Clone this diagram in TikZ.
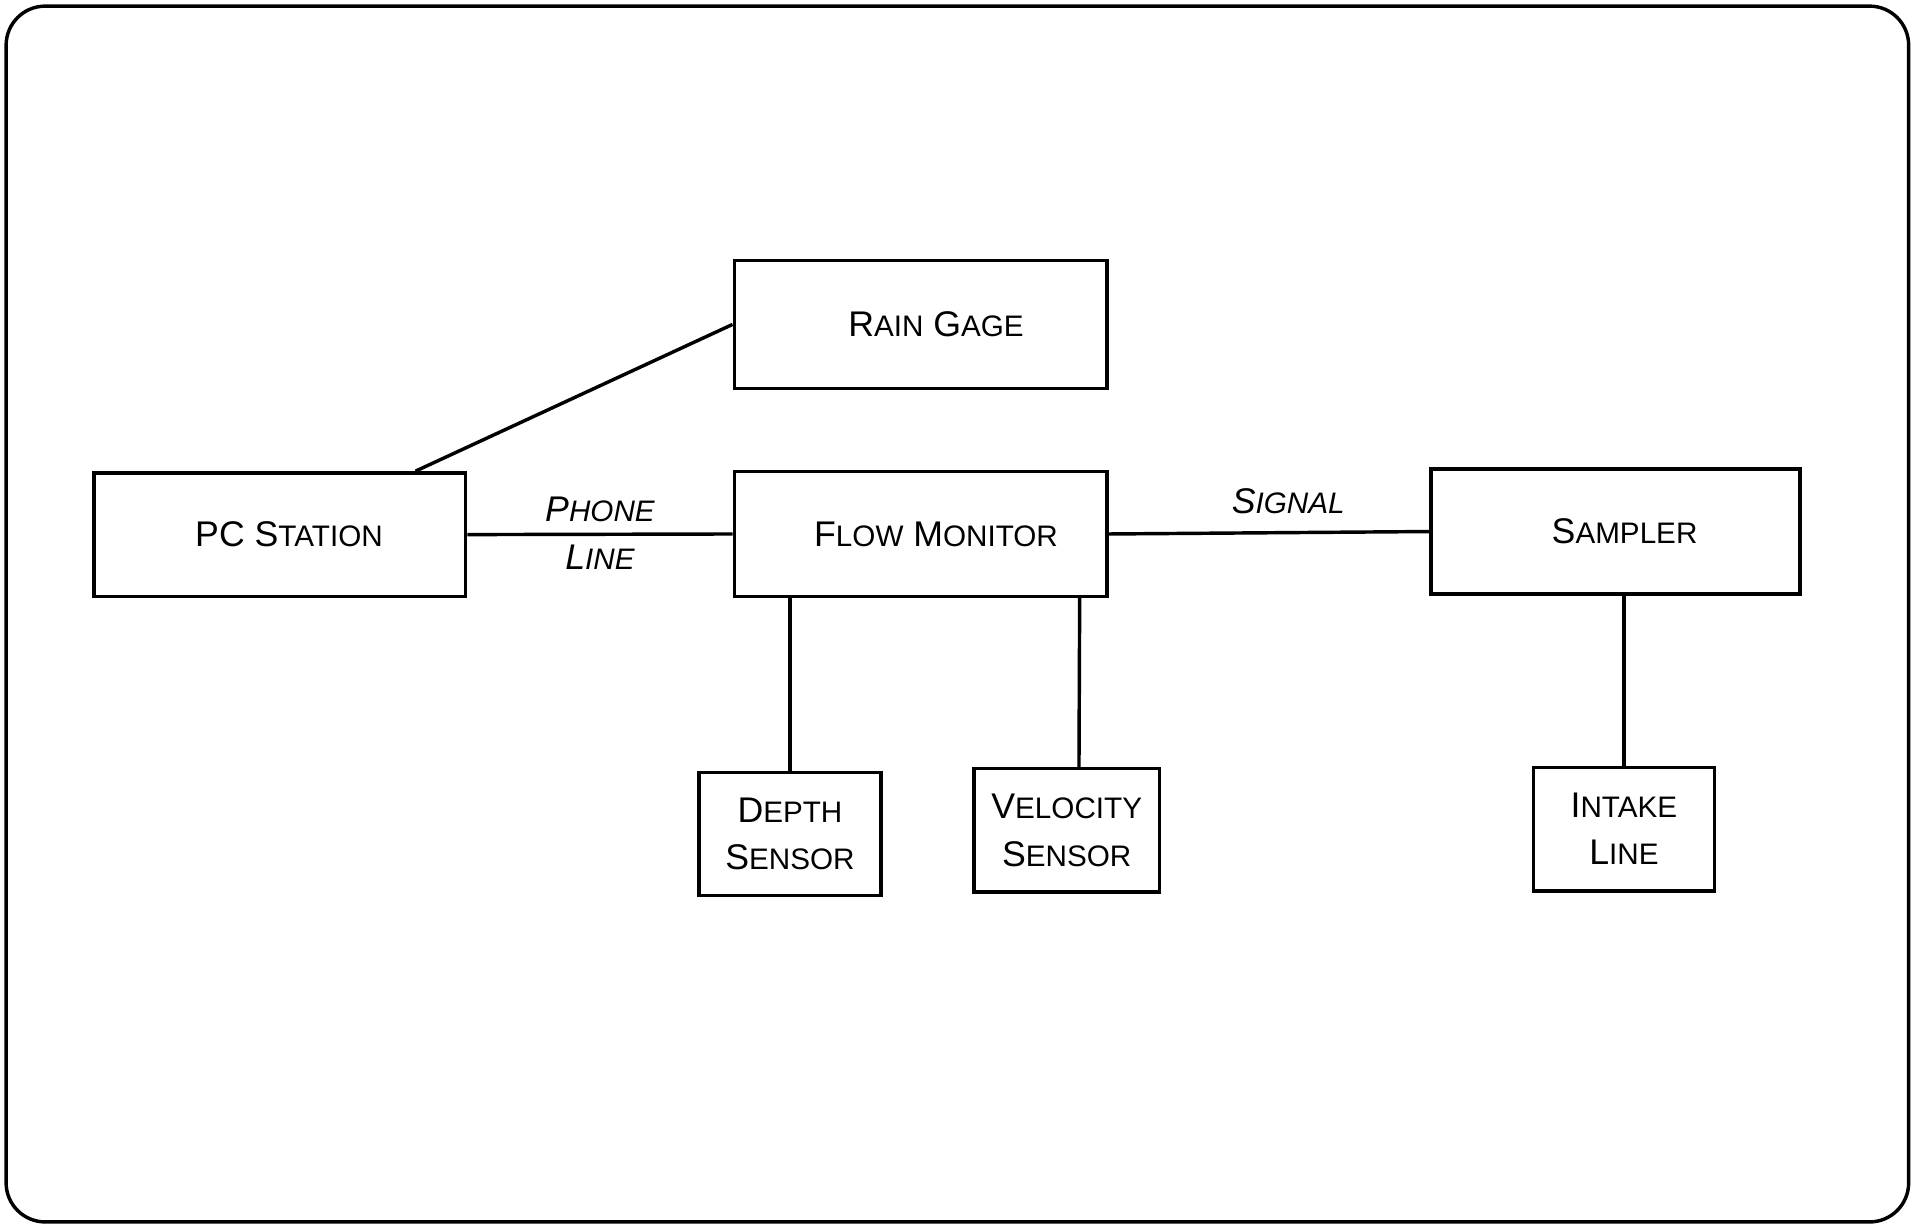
\documentclass[tikz,border=0pt]{standalone}
\usepackage{fontspec}
\setmainfont{Liberation Sans}
\usepackage{tikz}
\usetikzlibrary{positioning, calc}
\newcommand{\smc}[2]{#1{\fontsize{6.9}{8}\selectfont #2}}

\begin{document}
\begin{tikzpicture}[
    x=0.01cm, y=-0.01cm,
    box/.style={draw, line width=0.8pt, font=\fontsize{8.3}{11}\selectfont, align=center, inner sep=0pt},
    link/.style={line width=0.8pt},
    tag/.style={font=\fontsize{8.3}{10}\selectfont\itshape, inner sep=1pt}
]
    \useasboundingbox (0,0) rectangle (1568,1003);
    % Frame
    \draw[line width=0.8pt, rounded corners=0.32cm] (5,5) rectangle (1562,1000);

    % Main units
    \node[box, minimum width=3.05cm, minimum height=1.05cm] (rain) at (753.5,265.5) {\hspace*{0.25cm}\smc{R}{AIN} \smc{G}{AGE}};
    \node[box, minimum width=3.04cm, minimum height=1.01cm] (pc) at (229,437.5) {\hspace*{0.15cm}PC \smc{S}{TATION}};
    \node[box, minimum width=3.05cm, minimum height=1.02cm] (flow) at (753.5,437) {\hspace*{0.25cm}\smc{F}{LOW} \smc{M}{ONITOR}};
    \node[box, minimum width=3.02cm, minimum height=1.02cm] (sampler) at (1322,435) {\hspace*{0.15cm}\smc{S}{AMPLER}};

    % Sensors
    \node[box, minimum width=1.49cm, minimum height=1.01cm] (depth) at (646.5,682.5) {\smc{D}{EPTH}\\\smc{S}{ENSOR}};
    \node[box, minimum width=1.52cm, minimum height=1.01cm] (velocity) at (873,679.5) {\smc{V}{ELOCITY}\\\smc{S}{ENSOR}};
    \node[box, minimum width=1.48cm, minimum height=1.01cm] (intake) at (1329,678.5) {\smc{I}{NTAKE}\\\smc{L}{INE}};

    % Connections
    \draw[link] ([xshift=1.11cm]pc.north) -- (rain.west);
    \draw[link] (pc.east) -- (flow.west)
        node[tag, midway, above=1.5pt] (phone) {\smc{P}{HONE}}
        node[tag, midway, below=1pt] (pline) {\smc{L}{INE}};
    \draw[link] (flow.east) -- (sampler.west)
        node[tag, pos=0.56, above=3pt] (signal) {\smc{S}{IGNAL}};
    \draw[link] (depth.north |- flow.south) -- (depth.north);
    \draw[link] ([xshift=1.3cm]flow.south) -- ([xshift=0.1cm]velocity.north);
    \draw[link] (intake.north |- sampler.south) -- (intake.north);
\end{tikzpicture}
\end{document}
